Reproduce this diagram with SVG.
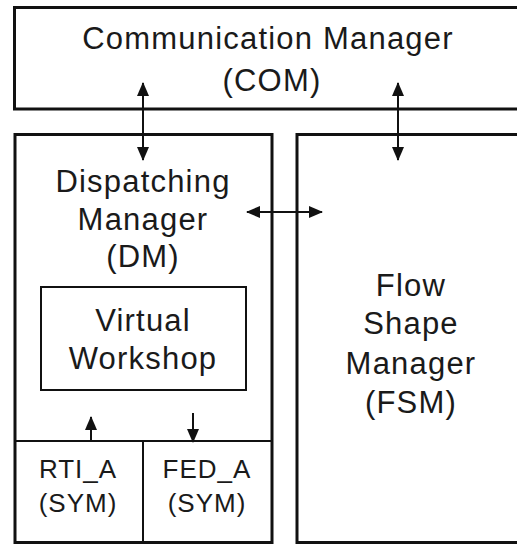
<svg xmlns="http://www.w3.org/2000/svg" width="517" height="544" viewBox="0 0 517 544">
<style>
.box{fill:#fff;stroke:#111;stroke-width:3}
.thin{fill:none;stroke:#111;stroke-width:2}
.t{font-family:"Liberation Sans",Arial,sans-serif;font-size:31px;letter-spacing:1.2px;fill:#1a1a1a;text-anchor:middle}
.s{font-family:"Liberation Sans",Arial,sans-serif;font-size:26px;letter-spacing:1px;fill:#1a1a1a;text-anchor:middle}
.c{stroke:#111;stroke-width:2;fill:none;marker-end:url(#ah)}
.cc{stroke:#111;stroke-width:2;fill:none;marker-start:url(#ah);marker-end:url(#ah)}
</style>
<defs>
<marker id="ah" viewBox="0 0 14 12" refX="13" refY="6" markerWidth="14" markerHeight="12" markerUnits="userSpaceOnUse" orient="auto-start-reverse">
<path d="M0,0 L14,6 L0,12 z" fill="#111"/>
</marker>
</defs>
<rect width="517" height="544" fill="#fff"/>
<g id="com">
<rect class="box" x="14.5" y="7.5" width="520" height="101.5"/>
<text class="t" x="268" y="49">Communication Manager</text>
<text class="t" x="272" y="91">(COM)</text>
</g>
<g id="dm">
<rect class="box" x="15" y="134.5" width="257" height="408"/>
<text class="t" x="143" y="192">Dispatching</text>
<text class="t" x="143" y="230">Manager</text>
<text class="t" x="143" y="267">(DM)</text>
</g>
<g id="vw">
<rect class="thin" x="41" y="287" width="205" height="103"/>
<text class="t" x="143" y="331">Virtual</text>
<text class="t" x="143" y="369">Workshop</text>
</g>
<g id="rti">
<line class="thin" x1="15" y1="441" x2="272" y2="441"/>
<text class="s" x="78" y="478">RTI_A</text>
<text class="s" x="78" y="512">(SYM)</text>
</g>
<g id="fed">
<line class="thin" x1="143" y1="441" x2="143" y2="542"/>
<text class="s" x="207" y="478">FED_A</text>
<text class="s" x="207" y="512">(SYM)</text>
</g>
<g id="fsm">
<rect class="box" x="297" y="134.5" width="240" height="408"/>
<text class="t" x="411" y="296">Flow</text>
<text class="t" x="411" y="334">Shape</text>
<text class="t" x="411" y="374">Manager</text>
<text class="t" x="411" y="413">(FSM)</text>
</g>
<g id="connectors">
<line class="cc" x1="143" y1="83" x2="143" y2="160"/>
<line class="cc" x1="398" y1="83" x2="398" y2="160"/>
<line class="cc" x1="247" y1="212" x2="322" y2="212"/>
<line class="c" x1="91" y1="441" x2="91" y2="417"/>
<line class="c" x1="193" y1="413" x2="193" y2="442"/>
</g>
</svg>
